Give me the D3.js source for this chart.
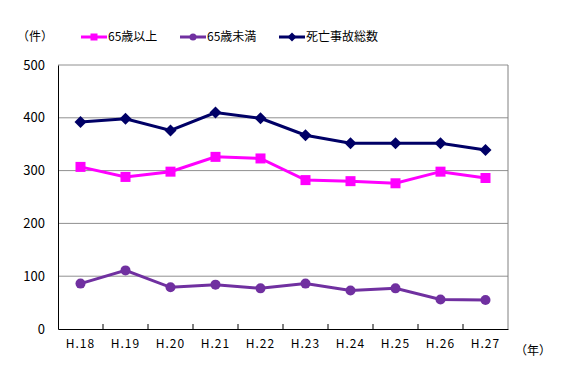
<!DOCTYPE html>
<meta charset="utf-8">
<style>
body { margin: 0; background: #fff; }
text { font-family: "Noto Sans CJK JP", sans-serif; fill: #000; }
</style>
<body>
<svg width="567" height="378"></svg>
<script src="https://cdn.jsdelivr.net/npm/d3@7"></script>
<script>

var years = ["H.18", "H.19", "H.20", "H.21", "H.22", "H.23", "H.24", "H.25", "H.26", "H.27"];
var over65 = [307, 288, 298, 326, 323, 282, 280, 276, 298, 286];
var under65 = [86, 111, 79, 84, 77, 86, 73, 77, 56, 55];
var total = [392, 398, 376, 410, 399, 367, 352, 352, 352, 339];
var yTicks = [0, 100, 200, 300, 400, 500];

var series = [
  {name: "65歳以上", values: over65, color: "#ff00ff", marker: "square"},
  {name: "65歳未満", values: under65, color: "#7030a0", marker: "circle"},
  {name: "死亡事故総数", values: total, color: "#000066", marker: "diamond"}
];

var svg = d3.select("svg"),
    margin = {top: 65, right: 59, bottom: 49, left: 58},
    width = 567 - margin.left - margin.right,
    height = 378 - margin.top - margin.bottom,
    g = svg.append("g").attr("transform", "translate(" + margin.left + "," + margin.top + ")");

var x = d3.scaleBand().domain(years).range([0, width]),
    y = d3.scaleLinear().domain([0, 500]).range([height, 0]);

// gridlines
g.selectAll(".grid")
  .data(yTicks.slice(1))
  .enter().append("line")
    .attr("x1", 0).attr("x2", width)
    .attr("y1", function(d) { return y(d); })
    .attr("y2", function(d) { return y(d); })
    .attr("stroke", "#909090").attr("stroke-width", 1);

// right border
g.append("line")
  .attr("x1", width).attr("x2", width).attr("y1", 0).attr("y2", height)
  .attr("stroke", "#808080");

// y axis
var yAxis = g.append("g")
  .call(d3.axisLeft(y).tickValues(yTicks).tickSize(0).tickPadding(13));
yAxis.select(".domain").attr("stroke", "#000");
yAxis.selectAll("text").style("font-size", "13px").attr("font-family", null);

// x axis, ticks between categories pointing inward
var xAxis = g.append("g").attr("transform", "translate(0," + height + ")")
  .call(d3.axisBottom(x).tickSize(0).tickPadding(10));
xAxis.select(".domain").attr("stroke", "#000");
xAxis.selectAll("text").style("font-size", "12px").style("letter-spacing", "1px").attr("font-family", null);

g.selectAll(".xtick")
  .data(years.slice(1))
  .enter().append("line")
    .attr("x1", function(d) { return x(d); })
    .attr("x2", function(d) { return x(d); })
    .attr("y1", height).attr("y2", height - 5)
    .attr("stroke", "#000");

var line = d3.line()
  .x(function(d, i) { return x(years[i]) + x.bandwidth() / 2; })
  .y(function(d) { return y(d); });

function drawMarker(sel, type, color, size) {
  if (type === "square") {
    sel.append("rect").attr("x", -size / 2).attr("y", -size / 2)
      .attr("width", size).attr("height", size).attr("fill", color);
  } else if (type === "circle") {
    sel.append("circle").attr("r", size / 2).attr("fill", color);
  } else {
    var s = size / 2 + 1;
    sel.append("path").attr("d", "M0," + (-s) + "L" + s + ",0L0," + s + "L" + (-s) + ",0Z")
      .attr("fill", color);
  }
}

series.forEach(function(s) {
  g.append("path")
    .attr("d", line(s.values))
    .attr("fill", "none")
    .attr("stroke", s.color)
    .attr("stroke-width", 3);

  s.values.forEach(function(v, i) {
    var m = g.append("g")
      .attr("transform", "translate(" + (x(years[i]) + x.bandwidth() / 2) + "," + y(v) + ")");
    drawMarker(m, s.marker, s.color, 10);
  });
});

// legend
var legendX = [81, 180, 279];
series.forEach(function(s, i) {
  var lg = svg.append("g").attr("transform", "translate(" + legendX[i] + ",37)");
  lg.append("line").attr("x1", 0).attr("x2", 26).attr("stroke", s.color).attr("stroke-width", 3);
  drawMarker(lg.append("g").attr("transform", "translate(13,0)"), s.marker, s.color, 7);
  lg.append("text").attr("x", 27).attr("dy", "0.36em")
    .style("font-size", "12px").text(s.name);
});

svg.append("text").attr("x", 17).attr("y", 37).attr("dy", "0.36em")
  .style("font-size", "12px").text("（件）");
svg.append("text").attr("x", 515).attr("y", 351).attr("dy", "0.36em")
  .style("font-size", "12px").text("（年）");

</script>
</body>
